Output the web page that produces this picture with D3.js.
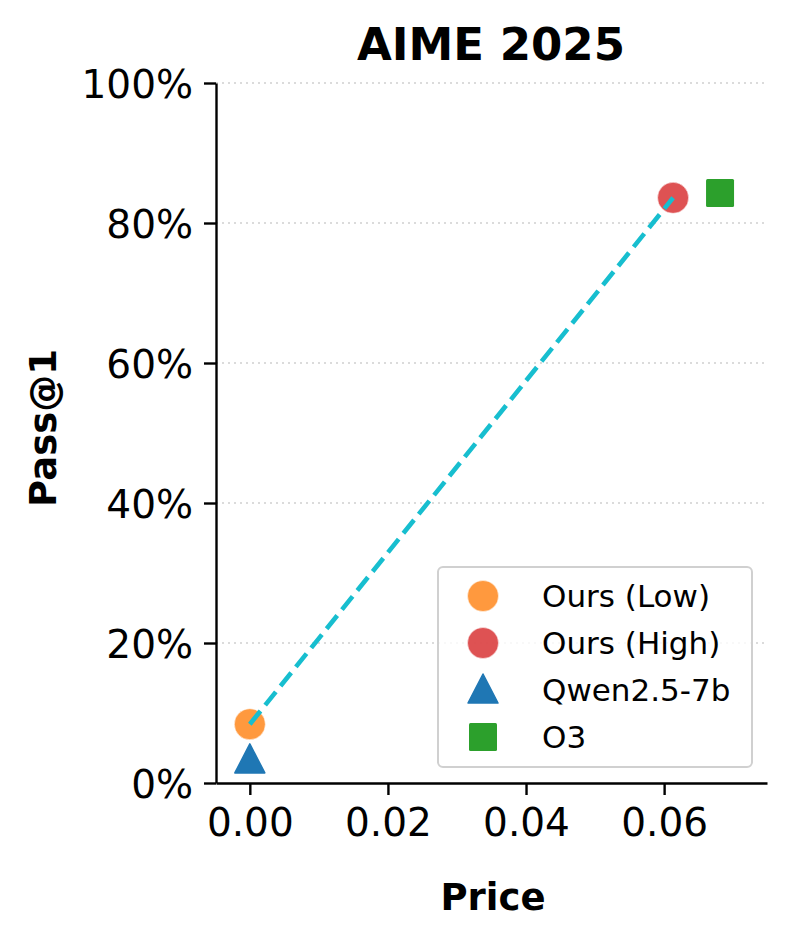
<!DOCTYPE html>
<html>
<head>
<meta charset="utf-8">
<script src="https://cdn.jsdelivr.net/npm/d3@7"></script>
<style>
  body { margin: 0; background: #fff; }
  text { font-family: "DejaVu Sans", sans-serif; }
</style>
</head>
<body>
<svg id="chart" width="793" height="947"></svg>
<script>
// data
var names = ["Ours (Low)", "Ours (High)", "Qwen2.5-7b", "O3"];
var prices = [0.0, 0.0613, 0.0, 0.0681];
var scores = [8.4, 83.6, 3.3, 84.3];
var colors = ["#ff7f0e", "#d62728", "#1f77b4", "#2ca02c"];
var shapes = ["circle", "circle", "triangle", "square"];
var xTicks = [0, 0.02, 0.04, 0.06];
var yTicks = [0, 20, 40, 60, 80, 100];

var svg = d3.select("#chart");
var plot = {left: 216, right: 767, top: 83, bottom: 783};

var x = d3.scaleLinear().domain([-0.0049, 0.0749]).range([plot.left, plot.right]);
var y = d3.scaleLinear().domain([0, 100]).range([plot.bottom, plot.top]);

// grid
svg.append("g").selectAll("line").data(yTicks.slice(1)).enter().append("line")
    .attr("x1", plot.left).attr("x2", plot.right)
    .attr("y1", function (d) { return y(d); }).attr("y2", function (d) { return y(d); })
    .attr("stroke", "#cfcfcf").attr("stroke-width", 1.3).attr("stroke-dasharray", "2,4");

// axes
var xAxis = svg.append("g").attr("transform", "translate(0," + plot.bottom + ")")
    .call(d3.axisBottom(x).tickValues(xTicks).tickFormat(d3.format(".2f")).tickSize(12).tickSizeOuter(0).tickPadding(13));
var yAxis = svg.append("g").attr("transform", "translate(" + plot.left + ",0)")
    .call(d3.axisLeft(y).tickValues(yTicks).tickFormat(function (d) { return d + "%"; }).tickSize(12).tickSizeOuter(0).tickPadding(11));
[xAxis, yAxis].forEach(function (a) {
    a.select(".domain").attr("stroke", "#000").attr("stroke-width", 2.4);
    a.selectAll(".tick line").attr("stroke", "#000").attr("stroke-width", 2.4);
    a.selectAll(".tick text").attr("font-size", 39).attr("fill", "#000");
});
yAxis.selectAll(".tick text").attr("dy", "0.36em");

function drawMarker(g, shape, color, cx, cy) {
    if (shape === "circle") {
        g.append("circle").attr("cx", cx).attr("cy", cy).attr("r", 15.5)
            .attr("fill", color).attr("fill-opacity", 0.8)
            .attr("stroke", "#fff").attr("stroke-opacity", 0.5).attr("stroke-width", 1);
    } else if (shape === "triangle") {
        g.append("path").attr("transform", "translate(" + cx + "," + cy + ")")
            .attr("d", "M0,-16L15,13L-15,13Z").attr("fill", color)
            .attr("stroke", color).attr("stroke-linejoin", "round").attr("stroke-width", 1.5);
    } else {
        g.append("rect").attr("x", cx - 14).attr("y", cy - 14).attr("width", 28).attr("height", 28)
            .attr("rx", 1.5).attr("fill", color);
    }
}

// points
var pts = svg.append("g");
names.forEach(function (n, i) {
    drawMarker(pts, shapes[i], colors[i], x(prices[i]), y(scores[i]));
});
// dashed trend line between our two points, drawn over the markers
svg.append("line")
    .attr("x1", x(prices[0])).attr("y1", y(scores[0]))
    .attr("x2", x(prices[1])).attr("y2", y(scores[1]))
    .attr("stroke", "#17becf").attr("stroke-width", 4.6).attr("stroke-dasharray", "17,7.5");

// legend
var leg = svg.append("g");
leg.append("rect").attr("x", 438).attr("y", 567).attr("width", 314).attr("height", 200)
    .attr("rx", 5).attr("fill", "#fff").attr("fill-opacity", 0.8)
    .attr("stroke", "#d0d0d0").attr("stroke-width", 2);
names.forEach(function (n, i) {
    var cy = 596 + i * 47;
    drawMarker(leg, shapes[i], colors[i], 483, cy);
    leg.append("text").attr("x", 542).attr("y", cy).attr("dy", "0.36em")
        .attr("font-size", 31).attr("fill", "#000").text(n);
});

// titles
svg.append("text").attr("x", 491).attr("y", 60).attr("text-anchor", "middle")
    .attr("font-size", 45).attr("font-weight", "bold").text("AIME 2025");
svg.append("text").attr("x", 493).attr("y", 910).attr("text-anchor", "middle")
    .attr("font-size", 37).attr("font-weight", "bold").text("Price");
svg.append("text").attr("transform", "translate(56,428) rotate(-90)").attr("text-anchor", "middle")
    .attr("font-size", 37).attr("font-weight", "bold").text("Pass@1");
</script>
</body>
</html>
